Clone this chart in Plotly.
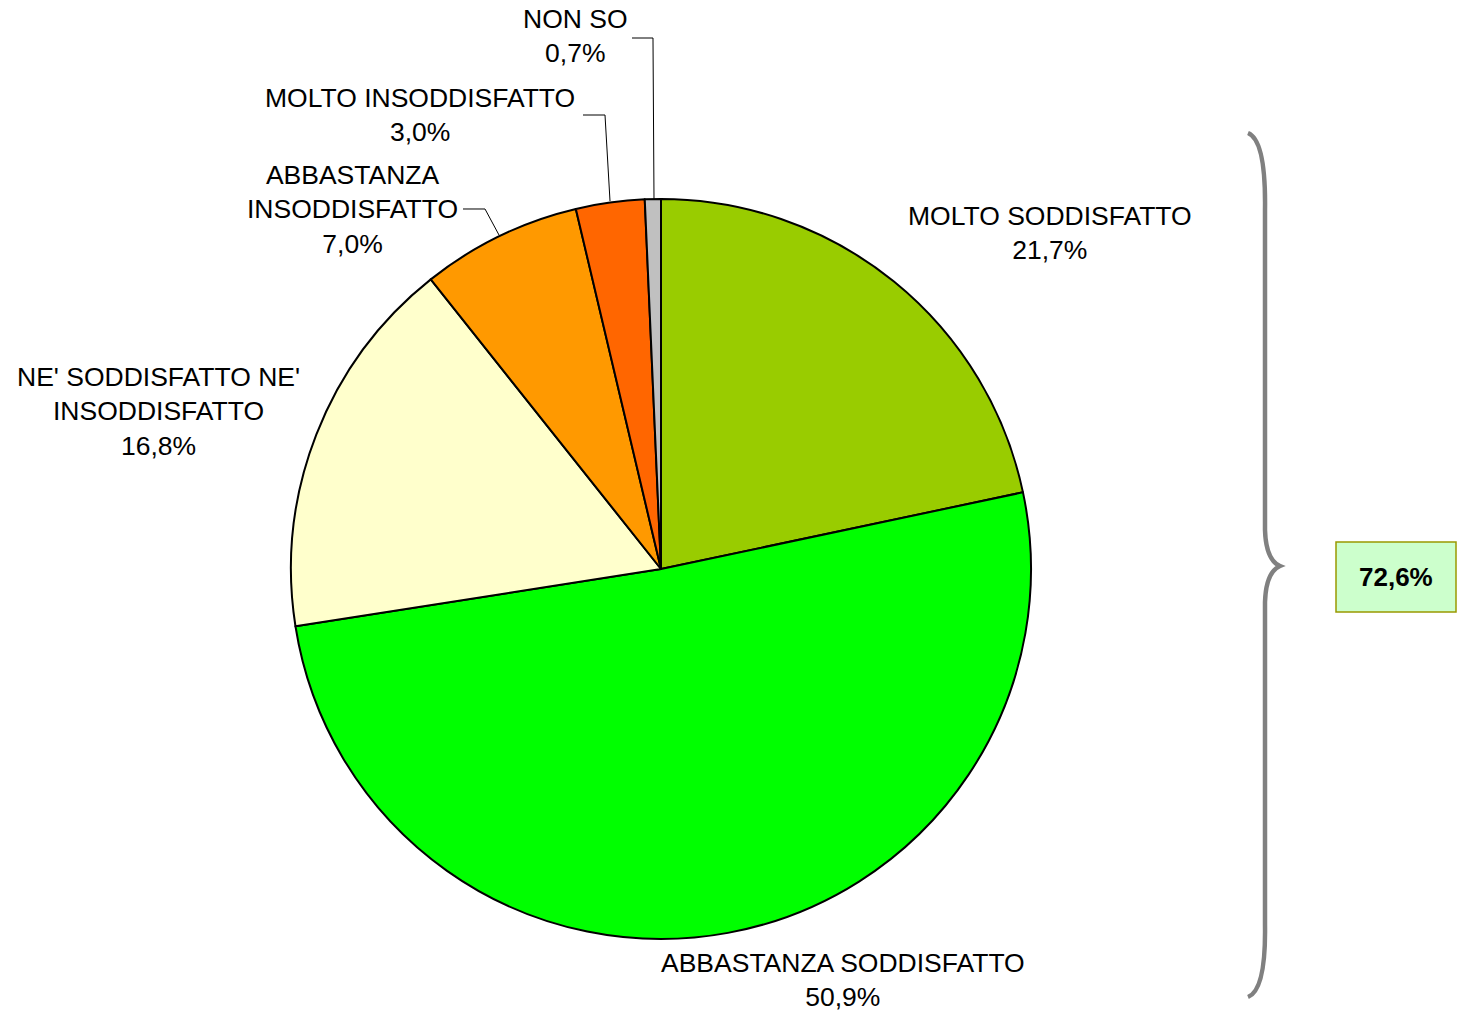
import plotly.graph_objects as go

# Data
categories = ["MOLTO SODDISFATTO", "ABBASTANZA SODDISFATTO",
              "NE' SODDISFATTO NE' INSODDISFATTO", "ABBASTANZA INSODDISFATTO",
              "MOLTO INSODDISFATTO", "NON SO"]
values = [21.7, 50.9, 16.8, 7.0, 3.0, 0.7]
colors = ["#99CC00", "#00FF00", "#FFFFCC", "#FF9900", "#FF6600", "#C0C0C0"]

# label text as it appears in the picture (line breaks)
label_lines = ["MOLTO SODDISFATTO", "ABBASTANZA SODDISFATTO",
               "NE' SODDISFATTO NE'<br>INSODDISFATTO", "ABBASTANZA<br>INSODDISFATTO",
               "MOLTO INSODDISFATTO", "NON SO"]

W, H = 1457, 1012
FONT = "Liberation Sans, Arial"


def px(x, y):
    # window pixel -> paper coordinates
    return x / W, 1 - y / H


def fmt(v):
    return f"{v:.1f}%".replace(".", ",")


fig = go.Figure()

x0, y1 = px(291, 199)
x1, y0 = px(1031, 939)
fig.add_trace(go.Pie(labels=categories, values=values, sort=False,
                     direction="clockwise", rotation=0,
                     marker=dict(colors=colors, line=dict(color="black", width=2)),
                     textinfo="none", hoverinfo="label+percent",
                     domain=dict(x=[x0, x1], y=[y0, y1]),
                     showlegend=False))

# label positions (pixel centres)
label_pos = [(1050, 233), (843, 980), (158, 411), (352, 209), (420, 115), (575, 36)]
annotations = []
for lab, v, (lx, ly) in zip(label_lines, values, label_pos):
    ax, ay = px(lx, ly)
    annotations.append(dict(x=ax, y=ay, xref="paper", yref="paper",
                            text=f"{lab}<br>{fmt(v)}", showarrow=False,
                            xanchor="center", yanchor="middle",
                            font=dict(family=FONT, size=26.5, color="black")))

# total satisfied box
total = values[0] + values[1]
bx, by = px(1396, 577)
annotations.append(dict(x=bx, y=by, xref="paper", yref="paper",
                        text=f"<b>{fmt(total)}</b>", showarrow=False,
                        xanchor="center", yanchor="middle",
                        font=dict(family=FONT, size=26, color="black")))

shapes = []

# box around total
bx0, by1 = px(1336, 542)
bx1, by0 = px(1456, 612)
shapes.append(dict(type="rect", xref="paper", yref="paper", x0=bx0, x1=bx1, y0=by0, y1=by1,
                   fillcolor="#CCFFCC", line=dict(color="#999900", width=1.5), layer="below"))

# leader lines
leaders = [
    [(632, 38), (653, 38), (654, 200)],
    [(583, 115), (605, 115), (610, 201)],
    [(463, 209), (485, 209), (499, 235)],
]
for pts in leaders:
    path = ""
    for i, (x, y) in enumerate(pts):
        X, Y = px(x, y)
        path += ("M" if i == 0 else "L") + f"{X:.5f},{Y:.5f} "
    shapes.append(dict(type="path", xref="paper", yref="paper", path=path,
                       line=dict(color="black", width=1)))


# curly brace
def P(x, y):
    X, Y = px(x, y)
    return f"{X:.5f},{Y:.5f}"


brace = (f"M{P(1248, 133)} Q{P(1266, 140)} {P(1265, 210)} L{P(1265, 530)} "
         f"Q{P(1266, 560)} {P(1280, 566)} Q{P(1266, 572)} {P(1265, 602)} "
         f"L{P(1265, 925)} Q{P(1266, 990)} {P(1248, 997)}")
shapes.append(dict(type="path", xref="paper", yref="paper", path=brace,
                   line=dict(color="#808080", width=4.5)))

fig.update_layout(width=W, height=H, margin=dict(l=0, r=0, t=0, b=0),
                  paper_bgcolor="white", plot_bgcolor="white",
                  annotations=annotations, shapes=shapes)

# drop the default body margin so the figure fills the window
fig.write_html("out.html", config={"displayModeBar": False},
               post_script="document.body.style.margin='0';document.body.style.overflow='hidden';")
